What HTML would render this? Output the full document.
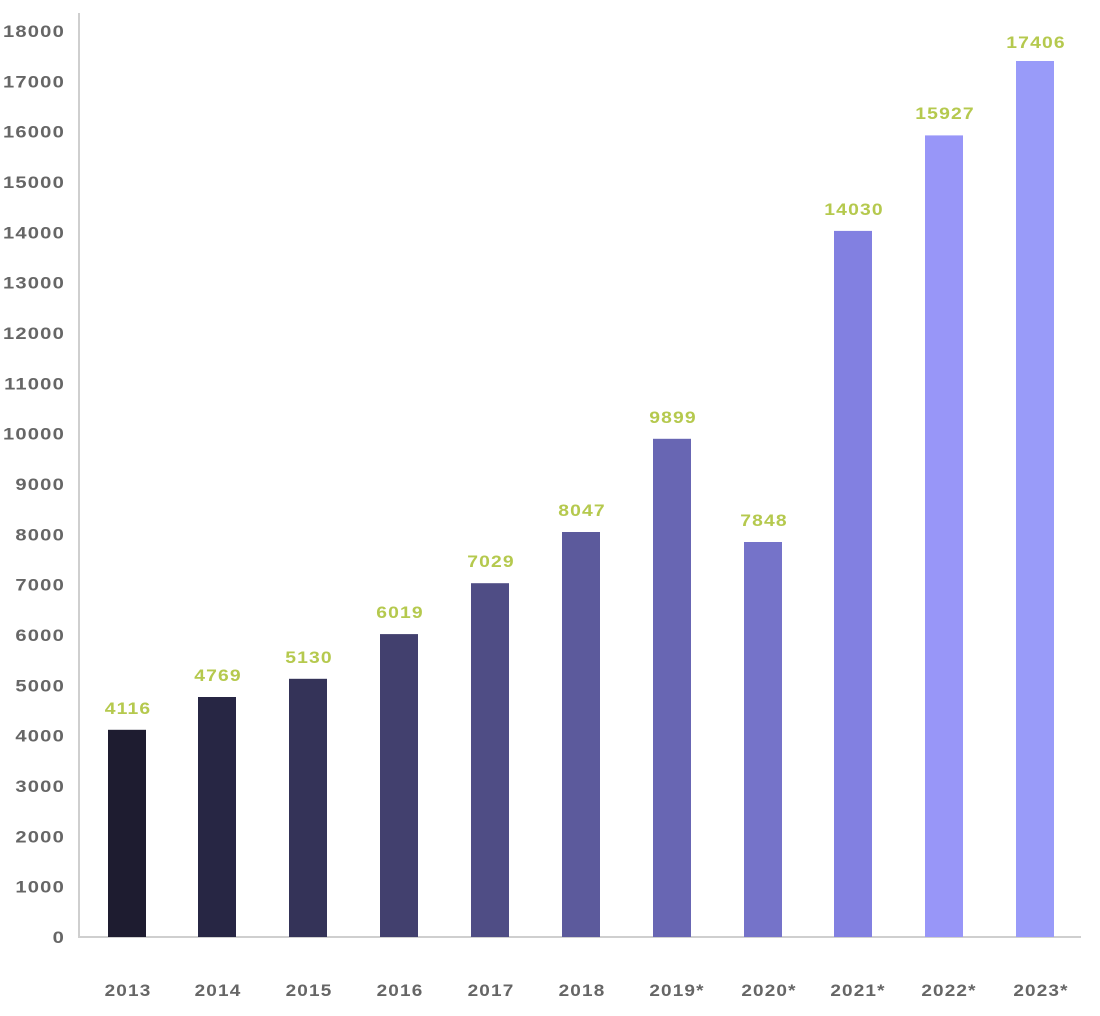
<!DOCTYPE html>
<html><head><style>
html,body{margin:0;padding:0;background:#fff;}
svg text{font-family:"Liberation Sans",sans-serif;font-weight:bold;letter-spacing:1px;}
</style></head><body>
<svg width="1100" height="1011" xmlns="http://www.w3.org/2000/svg">
<g fill="#666" font-size="16.8" text-anchor="end">
<text transform="translate(65,943) scale(1.2,1)">0</text>
<text transform="translate(65,892.7) scale(1.2,1)">1000</text>
<text transform="translate(65,842.3) scale(1.2,1)">2000</text>
<text transform="translate(65,792) scale(1.2,1)">3000</text>
<text transform="translate(65,741.7) scale(1.2,1)">4000</text>
<text transform="translate(65,691.3) scale(1.2,1)">5000</text>
<text transform="translate(65,641) scale(1.2,1)">6000</text>
<text transform="translate(65,590.7) scale(1.2,1)">7000</text>
<text transform="translate(65,540.3) scale(1.2,1)">8000</text>
<text transform="translate(65,490) scale(1.2,1)">9000</text>
<text transform="translate(65,439.7) scale(1.2,1)">10000</text>
<text transform="translate(65,389.3) scale(1.2,1)">11000</text>
<text transform="translate(65,339) scale(1.2,1)">12000</text>
<text transform="translate(65,288.7) scale(1.2,1)">13000</text>
<text transform="translate(65,238.3) scale(1.2,1)">14000</text>
<text transform="translate(65,188) scale(1.2,1)">15000</text>
<text transform="translate(65,137.7) scale(1.2,1)">16000</text>
<text transform="translate(65,87.3) scale(1.2,1)">17000</text>
<text transform="translate(65,37) scale(1.2,1)">18000</text>
</g>
<line x1="79" y1="13" x2="79" y2="938" stroke="#cfcfcf" stroke-width="2"/>
<line x1="78" y1="937" x2="1081" y2="937" stroke="#cfcfcf" stroke-width="2"/>
<g>
<rect x="108" y="729.8" width="38" height="207.2" fill="#1e1c30"/>
<rect x="198" y="697" width="38" height="240" fill="#272644"/>
<rect x="289" y="678.8" width="38" height="258.2" fill="#343358"/>
<rect x="380" y="634.1" width="38" height="302.9" fill="#42406e"/>
<rect x="471" y="583.2" width="38" height="353.8" fill="#4f4d85"/>
<rect x="562" y="532" width="38" height="405" fill="#5c5a9c"/>
<rect x="653" y="438.8" width="38" height="498.2" fill="#6866b3"/>
<rect x="744" y="542" width="38" height="395" fill="#7573c9"/>
<rect x="834" y="230.9" width="38" height="706.1" fill="#8280e1"/>
<rect x="925" y="135.4" width="38" height="801.6" fill="#9896f8"/>
<rect x="1016" y="61" width="38" height="876" fill="#999bf9"/>
</g>
<g fill="#b5c94e" font-size="16.8" text-anchor="middle">
<text transform="translate(128,714) scale(1.15,1)">4116</text>
<text transform="translate(218,681) scale(1.15,1)">4769</text>
<text transform="translate(309,663) scale(1.15,1)">5130</text>
<text transform="translate(400,618) scale(1.15,1)">6019</text>
<text transform="translate(491,567) scale(1.15,1)">7029</text>
<text transform="translate(582,516) scale(1.15,1)">8047</text>
<text transform="translate(673,423) scale(1.15,1)">9899</text>
<text transform="translate(764,526) scale(1.15,1)">7848</text>
<text transform="translate(854,215) scale(1.15,1)">14030</text>
<text transform="translate(945,119) scale(1.15,1)">15927</text>
<text transform="translate(1036,48) scale(1.15,1)">17406</text>
</g>
<g fill="#666" font-size="16.5" text-anchor="middle">
<text transform="translate(128,996) scale(1.15,1)">2013</text>
<text transform="translate(218,996) scale(1.15,1)">2014</text>
<text transform="translate(309,996) scale(1.15,1)">2015</text>
<text transform="translate(400,996) scale(1.15,1)">2016</text>
<text transform="translate(491,996) scale(1.15,1)">2017</text>
<text transform="translate(582,996) scale(1.15,1)">2018</text>
<text transform="translate(677,996) scale(1.15,1)">2019*</text>
<text transform="translate(769,996) scale(1.15,1)">2020*</text>
<text transform="translate(858,996) scale(1.15,1)">2021*</text>
<text transform="translate(949,996) scale(1.15,1)">2022*</text>
<text transform="translate(1041,996) scale(1.15,1)">2023*</text>
</g>
</svg>
</body></html>
